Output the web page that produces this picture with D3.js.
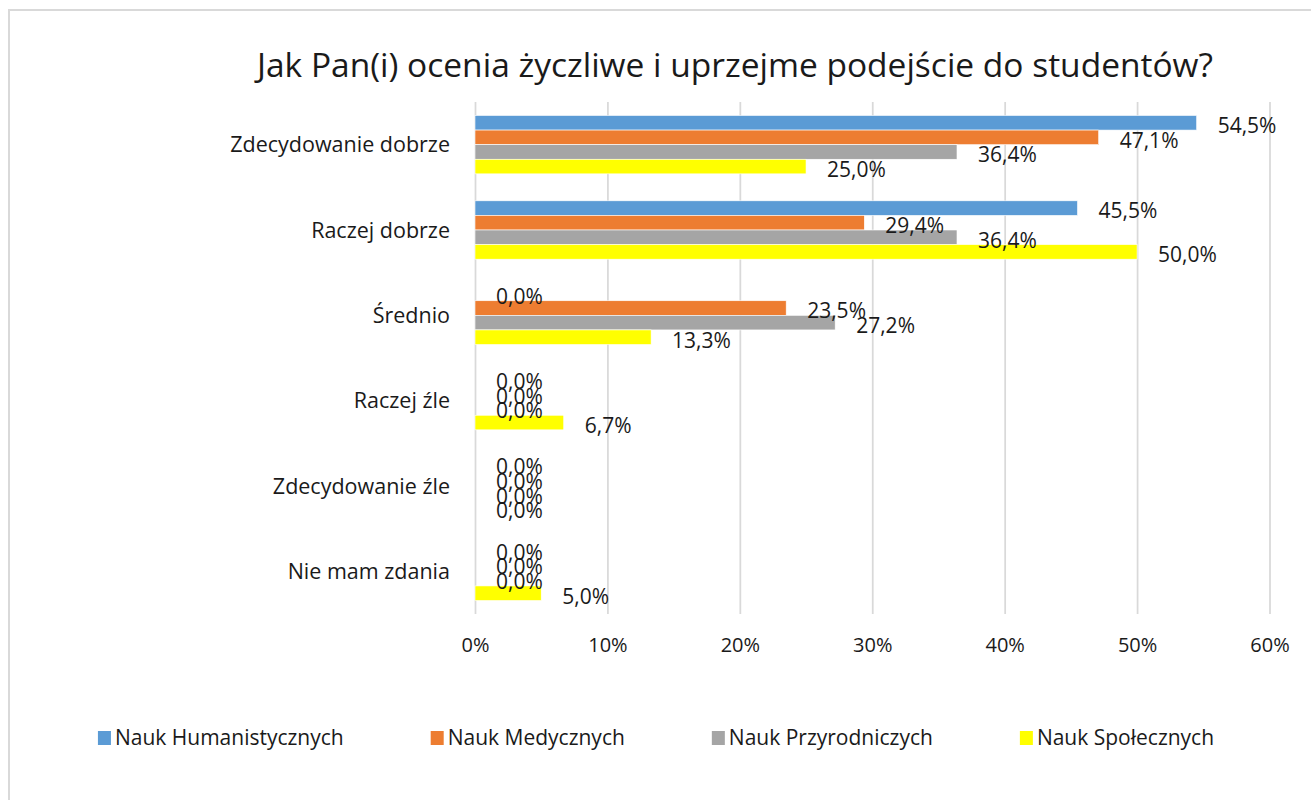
<!DOCTYPE html>
<meta charset="utf-8">
<style>
    body { margin: 0; background: #fff; }
    .grid line { stroke: #d9d9d9; stroke-width: 1.75px; }
    .grid .domain { display: none; }
    .grid text { font-family: "Open Sans", sans-serif; font-size: 20px; fill: #1a1a1a; }
    .cat { font-family: "Open Sans", sans-serif; font-size: 21.5px; fill: #1a1a1a; }
    .lbl { font-family: "Open Sans", sans-serif; font-size: 21px; fill: #1a1a1a; }
    .legend text { font-family: "Open Sans", sans-serif; font-size: 21px; fill: #1a1a1a; }
    .title { font-family: "Open Sans", sans-serif; font-size: 33.5px; fill: #1a1a1a; }
</style>
<body>
<svg width="1311" height="800"></svg>
<script src="https://d3js.org/d3.v7.min.js"></script>
<script>

    var categories = ["Zdecydowanie dobrze", "Raczej dobrze", "Średnio", "Raczej źle", "Zdecydowanie źle", "Nie mam zdania"];
    var seriesNames = ["Nauk Humanistycznych", "Nauk Medycznych", "Nauk Przyrodniczych", "Nauk Społecznych"];
    var humanistyczne = [54.5, 45.5, 0, 0, 0, 0];
    var medyczne = [47.1, 29.4, 23.5, 0, 0, 0];
    var przyrodnicze = [36.4, 36.4, 27.2, 0, 0, 0];
    var spoleczne = [25.0, 50.0, 13.3, 6.7, 0, 5.0];
    var xTicks = [0, 10, 20, 30, 40, 50, 60];
    var colors = ["#5b9bd5", "#ed7d31", "#a5a5a5", "#ffff00"];

    var seriesValues = [humanistyczne, medyczne, przyrodnicze, spoleczne];

    var svg = d3.select("svg"),
        plot = {left: 475, right: 1269.5, top: 102, bottom: 614};

    // outer frame (only top and left edges are in view)
    svg.append("path")
        .attr("d", "M9," + 800 + "V10H1311")
        .attr("fill", "none")
        .attr("stroke", "#d9d9d9")
        .attr("stroke-width", 2);

    var x = d3.scaleLinear().domain([0, 60]).range([plot.left, plot.right]);

    var y0 = d3.scaleBand()
        .domain(categories)
        .range([plot.top, plot.bottom])
        .paddingInner(0.316)
        .paddingOuter(0.158);

    var y1 = d3.scaleBand()
        .domain(seriesNames)
        .range([0, y0.bandwidth()]);

    var color = d3.scaleOrdinal().domain(seriesNames).range(colors);

    // grid + tick labels
    var xAxis = d3.axisBottom(x)
        .tickValues(xTicks)
        .tickSize(-(plot.bottom - plot.top))
        .tickPadding(24)
        .tickFormat(function (d) { return d + "%"; });

    svg.append("g")
        .attr("class", "grid")
        .attr("transform", "translate(0," + plot.bottom + ")")
        .call(xAxis);

    svg.append("text")
        .attr("class", "title")
        .attr("x", 735)
        .attr("y", 77)
        .attr("text-anchor", "middle")
        .text("Jak Pan(i) ocenia życzliwe i uprzejme podejście do studentów?");

    // category labels
    svg.append("g").selectAll("text")
        .data(categories)
        .join("text")
        .attr("class", "cat")
        .attr("x", 450)
        .attr("y", function (d) { return y0(d) + y0.bandwidth() / 2; })
        .attr("dy", "0.35em")
        .attr("text-anchor", "end")
        .text(function (d) { return d; });

    var rows = [];
    categories.forEach(function (c, i) {
        seriesNames.forEach(function (s, j) {
            rows.push({cat: c, series: s, value: seriesValues[j][i]});
        });
    });

    var fmt = d3.format(".1f");

    svg.append("g").selectAll("rect")
        .data(rows.filter(function (d) { return d.value > 0; }))
        .join("rect")
        .attr("x", x(0))
        .attr("y", function (d) { return y0(d.cat) + y1(d.series); })
        .attr("width", function (d) { return x(d.value) - x(0); })
        .attr("height", y1.bandwidth())
        .attr("fill", function (d) { return color(d.series); })
        .attr("stroke", "#fff")
        .attr("stroke-width", 0.6);

    svg.append("g").selectAll("text")
        .data(rows)
        .join("text")
        .attr("class", "lbl")
        .attr("x", function (d) { return x(d.value) + 21; })
        .attr("y", function (d) { return y0(d.cat) + y1(d.series) + y1.bandwidth() / 2 + 3; })
        .attr("dy", "0.35em")
        .text(function (d) { return fmt(d.value).replace(".", ",") + "%"; });

    // legend
    var legend = svg.append("g").attr("class", "legend");
    var items = legend.selectAll("g")
        .data(seriesNames)
        .join("g");
    items.append("rect")
        .attr("width", 13)
        .attr("height", 14)
        .attr("y", -7)
        .attr("fill", function (d) { return color(d); });
    items.append("text")
        .attr("x", 17)
        .attr("dy", "0.35em")
        .text(function (d) { return d; });

    var gap = 87, pos = 0, offsets = [];
    items.each(function () {
        offsets.push(pos);
        pos += 17 + d3.select(this).select("text").node().getComputedTextLength() + gap;
    });
    var total = pos - gap, start = 656 - total / 2;
    items.attr("transform", function (d, i) { return "translate(" + (start + offsets[i]) + ",738)"; });

</script>
</body>
